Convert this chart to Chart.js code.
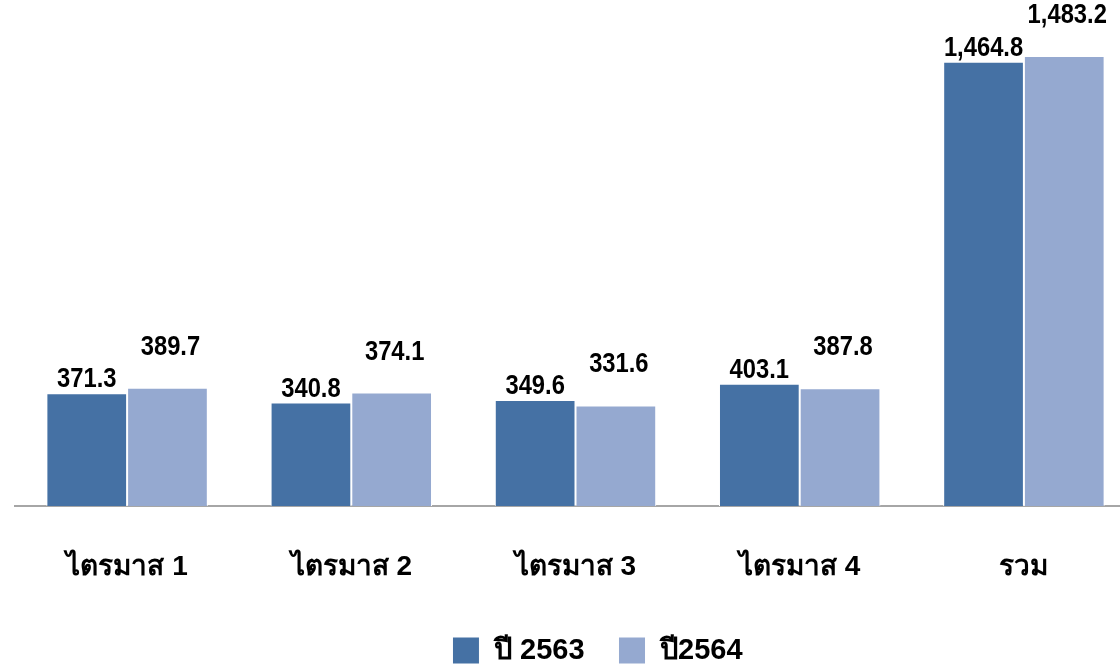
<!DOCTYPE html>
<html><head><meta charset="utf-8">
<script src="https://cdn.jsdelivr.net/npm/chart.js@4"></script>
<style>
html,body{margin:0;padding:0;overflow:hidden;background:#fff;}
#wrap{position:relative;width:1136px;height:668px;}
</style></head>
<body><div id="wrap"><canvas id="c"></canvas></div>
<script>
const categories = ['ไตรมาส 1','ไตรมาส 2','ไตรมาส 3','ไตรมาส 4','รวม'];
const seriesNames = ['ปี 2563','ปี2564'];
const values2563 = [371.3, 340.8, 349.6, 403.1, 1464.8];
const values2564 = [389.7, 374.1, 331.6, 387.8, 1483.2];

const FONT = '"Liberation Sans","DejaVu Sans",sans-serif';
const fmt = v => v.toLocaleString('en-US',{minimumFractionDigits:1,maximumFractionDigits:1});

const labelPlugin = {
  id:'vlabels',
  afterLayout(chart){
    if (chart.legend) { chart.legend.left += 22; chart.legend.right += 22; }
  },
  afterDatasetsDraw(chart){
    const ctx = chart.ctx;
    const offs = [6, 33];
    ctx.save();
    ctx.font = 'bold 27px ' + FONT;
    ctx.fillStyle = '#000';
    ctx.textAlign = 'center';
    ctx.textBaseline = 'alphabetic';
    chart.data.datasets.forEach((ds,i)=>{
      chart.getDatasetMeta(i).data.forEach((bar,j)=>{
        ctx.save();
        ctx.translate(bar.x + (i===1?3:0), bar.y - offs[i]);
        ctx.scale(0.88, 1);
        ctx.fillText(fmt(ds.data[j]), 0, 0);
        ctx.restore();
      });
    });
    ctx.restore();
  }
};

new Chart(document.getElementById('c'),{
  type:'bar',
  data:{
    labels:categories,
    datasets:[
      {label:seriesNames[0], data:values2563, backgroundColor:'#4571a4', borderColor:'#ffffff', borderWidth:1},
      {label:seriesNames[1], data:values2564, backgroundColor:'#95a9d0', borderColor:'#ffffff', borderWidth:1}
    ]
  },
  options:{
    responsive:true, maintainAspectRatio:false, animation:false,
    layout:{padding:{left:15, right:0, top:0, bottom:-7}},
    datasets:{bar:{categoryPercentage:0.72, barPercentage:1.0}},
    scales:{
      x:{
        grid:{display:false, drawTicks:false},
        border:{display:true, color:'#a6a6a6', width:2},
        ticks:{color:'#000', font:{family:FONT, size:28, weight:'bold'}, padding:44},
        afterFit(scale){ scale.height = 96; }
      },
      y:{
        display:false, min:0, max:1668,
        grid:{display:false}
      }
    },
    plugins:{
      legend:{
        position:'bottom',
        labels:{color:'#000', font:{family:FONT, size:29, weight:'bold'}, boxWidth:27, boxHeight:27, padding:34, useBorderRadius:false},
      },
      tooltip:{enabled:false}
    }
  },
  plugins:[labelPlugin]
});
</script></body></html>
